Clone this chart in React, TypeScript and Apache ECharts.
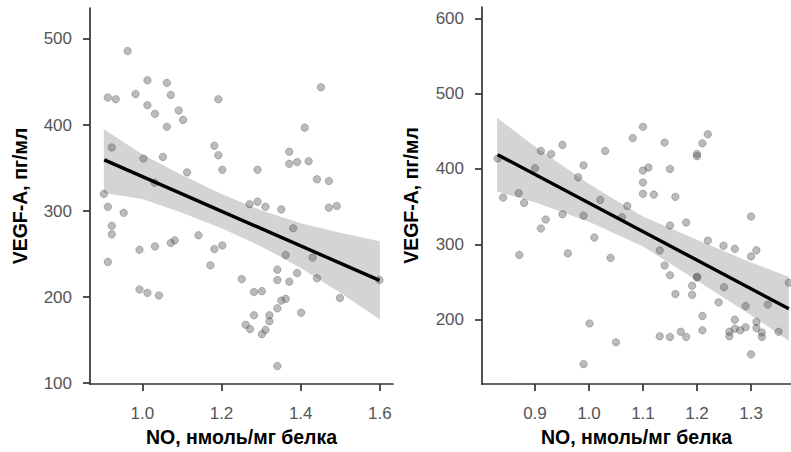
import React, { useEffect, useRef } from "react";
import * as echarts from "echarts";

// ---- Left panel data ----
const leftPoints: number[][] = [
  [0.963, 486], [0.913, 432], [0.933, 430], [0.983, 436], [1.013, 452], [1.013, 423],
  [1.032, 413], [1.062, 449], [1.072, 435], [1.092, 417], [1.103, 406], [1.062, 398],
  [1.192, 430], [0.923, 374], [1.003, 361], [1.052, 363], [1.031, 333], [1.113, 345],
  [1.182, 376], [1.192, 365], [1.202, 348], [0.903, 320], [0.913, 305], [0.953, 298],
  [1.271, 308], [1.291, 311], [1.311, 305], [1.351, 302], [1.291, 348], [1.371, 369],
  [1.371, 355], [1.391, 357], [1.420, 358], [1.410, 397], [1.451, 444], [1.441, 337],
  [1.471, 335], [1.471, 304], [1.491, 306], [1.381, 280], [0.923, 283], [0.923, 273],
  [0.913, 241], [0.993, 255], [1.032, 259], [1.072, 263], [1.082, 266], [1.142, 272],
  [1.182, 256], [1.202, 260], [1.172, 237], [0.993, 209], [1.013, 205], [1.042, 202],
  [1.251, 221], [1.282, 206], [1.302, 207], [1.282, 179], [1.261, 168], [1.272, 163],
  [1.302, 157], [1.311, 162], [1.321, 179], [1.321, 172], [1.341, 232], [1.341, 220],
  [1.371, 218], [1.391, 228], [1.362, 249], [1.351, 196], [1.362, 198], [1.341, 187],
  [1.401, 182], [1.430, 246], [1.441, 222], [1.499, 199], [1.599, 220], [1.341, 120],
];
const leftFitLine: number[][] = [[0.904, 359.5], [1.599, 219.5]];
const leftBandX = [0.903, 1.0, 1.1, 1.2, 1.3, 1.4, 1.5, 1.6];
const leftBandUpper = [395, 366, 342, 320, 301, 286, 275, 265];
const leftBandLower = [321, 314, 298, 280, 259, 234, 205, 174];
const leftXTicks = [1.0, 1.2, 1.4, 1.6];
const leftYTicks = [100, 200, 300, 400, 500];

// ---- Right panel data ----
const rightPoints: number[][] = [
  [0.831, 414], [0.841, 362], [0.870, 368], [0.880, 355], [0.900, 401], [0.911, 424],
  [0.930, 420], [0.951, 432], [0.990, 405], [0.980, 389], [1.030, 424], [1.021, 359],
  [0.951, 340], [0.990, 338], [0.920, 333], [0.911, 321], [1.071, 351], [1.061, 336],
  [1.081, 441], [1.100, 456], [1.100, 398], [1.110, 402], [1.100, 382], [1.100, 367],
  [1.120, 366], [1.140, 435], [1.150, 400], [1.160, 363], [1.150, 325], [1.180, 329],
  [1.200, 420], [1.200, 417], [1.210, 434], [1.220, 446], [1.300, 337],
  [0.871, 286], [0.961, 288], [1.010, 309], [1.040, 282], [1.001, 195], [1.050, 170],
  [0.990, 141], [1.131, 292], [1.140, 272], [1.150, 259], [1.160, 234], [1.191, 245],
  [1.191, 233], [1.200, 257], [1.200, 256], [1.220, 305], [1.249, 298], [1.270, 294],
  [1.300, 284], [1.310, 292], [1.250, 243], [1.240, 223], [1.290, 218], [1.331, 220],
  [1.370, 249], [1.210, 205], [1.210, 186], [1.131, 178], [1.150, 177], [1.170, 184],
  [1.180, 177], [1.260, 184], [1.260, 178], [1.270, 200], [1.270, 188], [1.280, 186],
  [1.290, 190], [1.310, 197], [1.310, 189], [1.320, 183], [1.320, 177], [1.351, 184],
  [1.300, 154],
];
const rightFitLine: number[][] = [[0.831, 419], [1.37, 214.5]];
const rightBandX = [0.83, 0.9, 1.0, 1.1, 1.2, 1.3, 1.37];
const rightBandUpper = [468, 430, 380, 337, 306, 276, 257];
const rightBandLower = [370, 356, 330, 297, 252, 206, 172];
const rightXTicks = [0.9, 1.0, 1.1, 1.2, 1.3];
const rightYTicks = [200, 300, 400, 500, 600];

const xTitle = "NO, нмоль/мг белка";
const yTitle = "VEGF-A, пг/мл";

const FONT = "'Liberation Sans', Arial, Helvetica, sans-serif";
const AXIS_COLOR = "#333333";
const LABEL_COLOR = "#555555";
const TITLE_SIZE = 19.5;

function bandSeries(idx: number, bx: number[], up: number[], lo: number[]) {
  return {
    type: "custom",
    xAxisIndex: idx,
    yAxisIndex: idx,
    silent: true,
    z: 1,
    data: [[bx[0], up[0]]],
    renderItem: (_p: any, api: any) => {
      const pts: number[][] = [];
      for (let i = 0; i < bx.length; i++) pts.push(api.coord([bx[i], up[i]]));
      for (let i = bx.length - 1; i >= 0; i--) pts.push(api.coord([bx[i], lo[i]]));
      return {
        type: "polygon",
        shape: { points: pts },
        style: { fill: "rgba(153,153,153,0.42)" },
      };
    },
  };
}

function pointSeries(idx: number, pts: number[][]) {
  return {
    type: "scatter",
    xAxisIndex: idx,
    yAxisIndex: idx,
    z: 2,
    symbolSize: 7.5,
    data: pts,
    itemStyle: {
      color: "rgba(85,85,85,0.5)",
      borderColor: "rgba(60,60,60,0.45)",
      borderWidth: 0.8,
    },
  };
}

function lineSeries(idx: number, pts: number[][]) {
  return {
    type: "line",
    xAxisIndex: idx,
    yAxisIndex: idx,
    z: 3,
    showSymbol: false,
    symbol: "none",
    data: pts,
    lineStyle: { color: "#000", width: 3.4 },
  };
}

function xAxisDef(idx: number, min: number, max: number, ticks: number[], gap: number) {
  return {
    type: "value",
    gridIndex: idx,
    min,
    max,
    name: xTitle,
    nameLocation: "middle",
    nameGap: gap,
    nameTextStyle: { fontFamily: FONT, fontWeight: "bold", fontSize: TITLE_SIZE, color: "#000" },
    axisLine: { show: true, onZero: false, lineStyle: { color: AXIS_COLOR, width: 1.7 } },
    axisTick: { show: true, length: 7, customValues: ticks, lineStyle: { color: AXIS_COLOR, width: 1.7 } },
    axisLabel: {
      customValues: ticks,
      margin: 21,
      fontFamily: FONT,
      fontSize: 17,
      color: LABEL_COLOR,
      formatter: (v: number) => v.toFixed(1),
    },
    splitLine: { show: false },
  };
}

function yAxisDef(idx: number, min: number, max: number, ticks: number[], gap: number) {
  return {
    type: "value",
    gridIndex: idx,
    min,
    max,
    name: yTitle,
    nameLocation: "middle",
    nameRotate: 90,
    nameGap: gap,
    nameTextStyle: { fontFamily: FONT, fontWeight: "bold", fontSize: TITLE_SIZE, color: "#000" },
    axisLine: { show: true, onZero: false, lineStyle: { color: AXIS_COLOR, width: 1.7 } },
    axisTick: { show: true, length: 7, customValues: ticks, lineStyle: { color: AXIS_COLOR, width: 1.7 } },
    axisLabel: {
      customValues: ticks,
      margin: 18,
      fontFamily: FONT,
      fontSize: 17,
      color: LABEL_COLOR,
      formatter: (v: number) => String(Math.round(v)),
    },
    splitLine: { show: false },
  };
}

export default function App() {
  const ref = useRef<HTMLDivElement>(null);
  useEffect(() => {
    if (!ref.current) return;
    const chart = echarts.init(ref.current, undefined, { renderer: "svg" });
    chart.setOption({
      animation: false,
      backgroundColor: "#ffffff",
      grid: [
        { left: 90, top: 8, width: 303, height: 382 },
        { left: 482, top: 7, width: 309, height: 380 },
      ],
      xAxis: [
        xAxisDef(0, 0.868, 1.633, leftXTicks, 38),
        xAxisDef(1, 0.802, 1.374, rightXTicks, 41),
      ],
      yAxis: [
        yAxisDef(0, 99, 536, leftYTicks, 60),
        yAxisDef(1, 114.5, 615, rightYTicks, 61),
      ],
      series: [
        bandSeries(0, leftBandX, leftBandUpper, leftBandLower),
        pointSeries(0, leftPoints),
        lineSeries(0, leftFitLine),
        bandSeries(1, rightBandX, rightBandUpper, rightBandLower),
        pointSeries(1, rightPoints),
        lineSeries(1, rightFitLine),
      ],
    });
    return () => chart.dispose();
  }, []);
  return <div ref={ref} style={{ width: 791, height: 452, position: "absolute", left: 0, top: 0 }} />;
}
